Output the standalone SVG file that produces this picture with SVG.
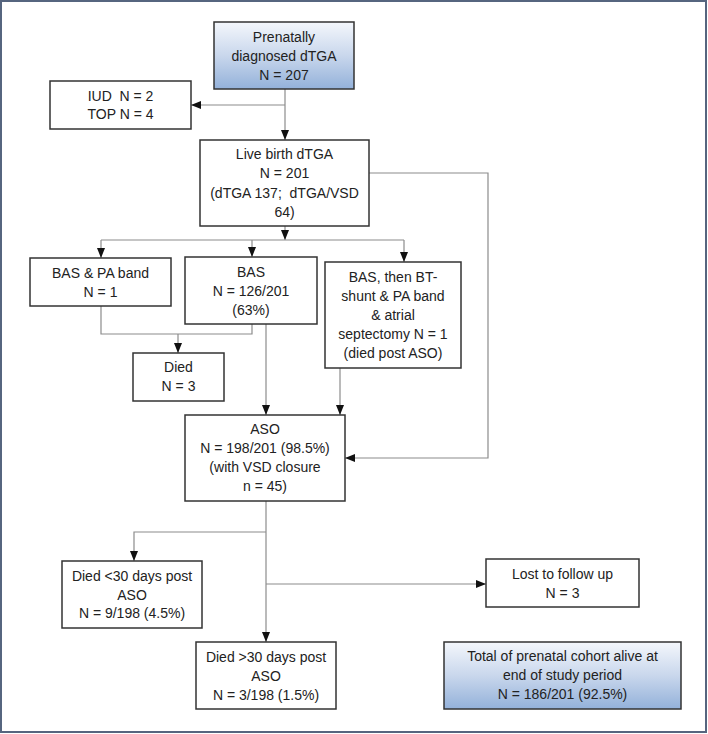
<svg xmlns="http://www.w3.org/2000/svg" width="708" height="734" viewBox="0 0 708 734">
<style>
.box{fill:#ffffff;stroke:#333333;stroke-width:1.5}
.grad{fill:url(#blue);stroke:#333333;stroke-width:1.5}
.t{font-family:"Liberation Sans",Arial,sans-serif;font-size:14px;fill:#222222;text-anchor:middle}
.c{fill:none;stroke:#8c8c8c;stroke-width:1.2}
</style>
<defs>
<linearGradient id="blue" x1="0" y1="0" x2="0" y2="1">
<stop offset="0" stop-color="#f4f7fc"/>
<stop offset="0.5" stop-color="#c9d7ec"/>
<stop offset="1" stop-color="#93b1da"/>
</linearGradient>
<marker id="arr" markerUnits="userSpaceOnUse" markerWidth="10" markerHeight="10" viewBox="0 0 10 10" refX="10" refY="5" orient="auto">
<path d="M0,1 L10,5 L0,9 Z" fill="#111111"/>
</marker>
</defs>
<rect x="1" y="1" width="705" height="731" fill="#ffffff" stroke="#56657f" stroke-width="2"/>
<g id="connectors">
<path class="c" d="M285 89 V140" marker-end="url(#arr)"/>
<path class="c" d="M285 105 H191" marker-end="url(#arr)"/>
<path class="c" d="M285 226 V240" marker-end="url(#arr)"/>
<path class="c" d="M101 240 H404"/>
<path class="c" d="M101 240 V258" marker-end="url(#arr)"/>
<path class="c" d="M252 240 V257" marker-end="url(#arr)"/>
<path class="c" d="M404 240 V262" marker-end="url(#arr)"/>
<path class="c" d="M101 306 V334 H252 V324"/>
<path class="c" d="M178 334 V353" marker-end="url(#arr)"/>
<path class="c" d="M266 324 V415" marker-end="url(#arr)"/>
<path class="c" d="M340 368 V415" marker-end="url(#arr)"/>
<path class="c" d="M369 173 H488 V458 H345" marker-end="url(#arr)"/>
<path class="c" d="M266 501 V642" marker-end="url(#arr)"/>
<path class="c" d="M266 532 H134 V561" marker-end="url(#arr)"/>
<path class="c" d="M266 584 H486" marker-end="url(#arr)"/>
</g>
<g id="prenatal">
<rect class="grad" x="214" y="22" width="140" height="67"/>
<text class="t" x="284" y="42">Prenatally</text>
<text class="t" x="284" y="61">diagnosed dTGA</text>
<text class="t" x="284" y="80">N = 207</text>
</g>
<g id="iud">
<rect class="box" x="50" y="81" width="141" height="48"/>
<text class="t" x="120.5" y="101" xml:space="preserve">IUD  N = 2</text>
<text class="t" x="120.5" y="119">TOP N = 4</text>
</g>
<g id="livebirth">
<rect class="box" x="200" y="140" width="169" height="86"/>
<text class="t" x="284.5" y="159">Live birth dTGA</text>
<text class="t" x="284.5" y="178">N = 201</text>
<text class="t" x="284.5" y="198" xml:space="preserve">(dTGA 137;  dTGA/VSD</text>
<text class="t" x="284.5" y="217">64)</text>
</g>
<g id="baspa">
<rect class="box" x="30" y="258" width="141" height="48"/>
<text class="t" x="100.5" y="278">BAS &amp; PA band</text>
<text class="t" x="100.5" y="297">N = 1</text>
</g>
<g id="bas">
<rect class="box" x="185" y="257" width="132" height="67"/>
<text class="t" x="251" y="277">BAS</text>
<text class="t" x="251" y="296">N = 126/201</text>
<text class="t" x="251" y="315">(63%)</text>
</g>
<g id="basbt">
<rect class="box" x="325" y="262" width="136" height="106"/>
<text class="t" x="393" y="282">BAS, then BT-</text>
<text class="t" x="393" y="301">shunt &amp; PA band</text>
<text class="t" x="393" y="320">&amp; atrial</text>
<text class="t" x="393" y="339">septectomy N = 1</text>
<text class="t" x="393" y="358">(died post ASO)</text>
</g>
<g id="died">
<rect class="box" x="133" y="353" width="91" height="48"/>
<text class="t" x="178.5" y="372">Died</text>
<text class="t" x="178.5" y="391">N = 3</text>
</g>
<g id="aso">
<rect class="box" x="185" y="415" width="160" height="86"/>
<text class="t" x="265" y="434">ASO</text>
<text class="t" x="265" y="453">N = 198/201 (98.5%)</text>
<text class="t" x="265" y="472">(with VSD closure</text>
<text class="t" x="265" y="491">n = 45)</text>
</g>
<g id="died30less">
<rect class="box" x="62" y="561" width="140" height="67"/>
<text class="t" x="132" y="581">Died &lt;30 days post</text>
<text class="t" x="132" y="600">ASO</text>
<text class="t" x="132" y="618">N = 9/198 (4.5%)</text>
</g>
<g id="lost">
<rect class="box" x="486" y="559" width="153" height="48"/>
<text class="t" x="562.5" y="579">Lost to follow up</text>
<text class="t" x="562.5" y="598">N = 3</text>
</g>
<g id="died30more">
<rect class="box" x="196" y="642" width="140" height="67"/>
<text class="t" x="266" y="662">Died &gt;30 days post</text>
<text class="t" x="266" y="681">ASO</text>
<text class="t" x="266" y="700">N = 3/198 (1.5%)</text>
</g>
<g id="total">
<rect class="grad" x="444" y="642" width="237" height="67"/>
<text class="t" x="562.5" y="661">Total of prenatal cohort alive at</text>
<text class="t" x="562.5" y="680">end of study period</text>
<text class="t" x="562.5" y="699">N = 186/201 (92.5%)</text>
</g>
</svg>
